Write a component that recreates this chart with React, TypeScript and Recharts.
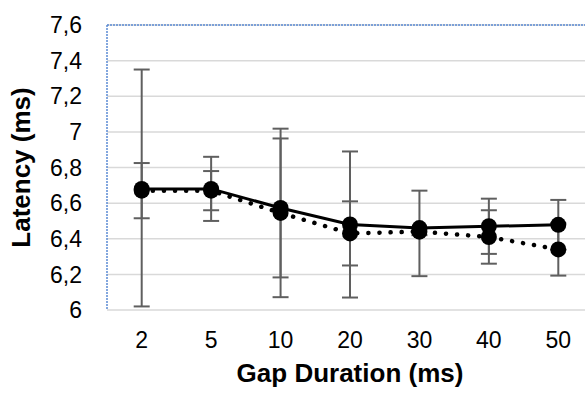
import { LineChart, Line, XAxis, YAxis, CartesianGrid, ErrorBar, ReferenceLine } from 'recharts';

const categories = ['2', '5', '10', '20', '30', '40', '50'];
const solidMean = [6.68, 6.68, 6.573, 6.48, 6.46, 6.47, 6.478];
const dottedMean = [6.67, 6.67, 6.545, 6.43, 6.44, 6.41, 6.34];
// [minus, plus]
const solidErr = [
	[0.66, 0.67],
	[0.18, 0.18],
	[0.39, 0.39],
	[0.41, 0.41],
	[0.27, 0.21],
	[0.155, 0.155],
	[0.14, 0.14],
];
const dottedErr = [
	[0.155, 0.155],
	[0.11, 0.11],
	[0.473, 0.473],
	[0.18, 0.18],
	[0.02, 0.02],
	[0.15, 0.15],
	[0.147, 0.147],
];
const yTicks = [6, 6.2, 6.4, 6.6, 6.8, 7, 7.2, 7.4, 7.6];

const data = categories.map((gap, i) => ({
	gap,
	solid: solidMean[i],
	dotted: dottedMean[i],
	solidErr: solidErr[i],
	dottedErr: dottedErr[i],
}));

const font = 'Arial, "Liberation Sans", sans-serif';
const tick = { fill: '#000', fontSize: 23, fontFamily: font };
const borderBlue = '#5b8bd3';

export default function App() {
	return (
		<div
			style={{
				position: 'fixed',
				left: 0,
				top: 0,
				width: 585,
				height: 393,
				overflow: 'hidden',
				background: '#fff',
			}}
		>
			<LineChart
				width={593}
				height={393}
				data={data}
				margin={{ top: 25, right: 0, left: 0, bottom: 0 }}
			>
				<CartesianGrid
					vertical={false}
					stroke="#d9d9d9"
					strokeWidth={1.5}
				/>
				<XAxis
					dataKey="gap"
					axisLine={false}
					tickLine={false}
					tickSize={0}
					tickMargin={22}
					height={83}
					padding={{ left: 34.7, right: 34.7 }}
					tick={tick}
					label={{
						content: ({ viewBox }: any) => (
							<text
								x={viewBox.x + viewBox.width / 2}
								y={382}
								textAnchor="middle"
								fontFamily={font}
								fontSize={26}
								fontWeight="bold"
								fill="#000"
							>
								Gap Duration (ms)
							</text>
						),
					}}
				/>
				<YAxis
					domain={[6, 7.6]}
					ticks={yTicks}
					interval={0}
					width={107}
					axisLine={{ stroke: borderBlue, strokeWidth: 1.5, strokeDasharray: '2 1' }}
					tickLine={false}
					tickSize={0}
					tickMargin={25}
					tick={tick}
					tickFormatter={(v: number) => String(v).replace('.', ',')}
					label={{
						content: ({ viewBox }: any) => {
							const cy = viewBox.y + viewBox.height / 2;
							return (
								<text
									x={30}
									y={cy}
									transform={`rotate(-90 30 ${cy})`}
									textAnchor="middle"
									fontFamily={font}
									fontSize={26}
									fontWeight="bold"
									fill="#000"
								>
									Latency (ms)
								</text>
							);
						},
					}}
				/>
				<ReferenceLine
					y={7.6}
					stroke={borderBlue}
					strokeWidth={1.5}
					strokeDasharray="2 1"
				/>
				<Line
					dataKey="dotted"
					stroke="#000"
					strokeWidth={4.5}
					strokeDasharray="0.1 11"
					strokeLinecap="round"
					dot={{ r: 8, fill: '#000', stroke: 'none' }}
					isAnimationActive={false}
				>
					<ErrorBar
						dataKey="dottedErr"
						direction="y"
						width={8}
						stroke="#5f5f5f"
						strokeWidth={2}
					/>
				</Line>
				<Line
					dataKey="solid"
					stroke="#000"
					strokeWidth={3}
					dot={{ r: 8, fill: '#000', stroke: 'none' }}
					isAnimationActive={false}
				>
					<ErrorBar
						dataKey="solidErr"
						direction="y"
						width={8}
						stroke="#5f5f5f"
						strokeWidth={2}
					/>
				</Line>
			</LineChart>
		</div>
	);
}
